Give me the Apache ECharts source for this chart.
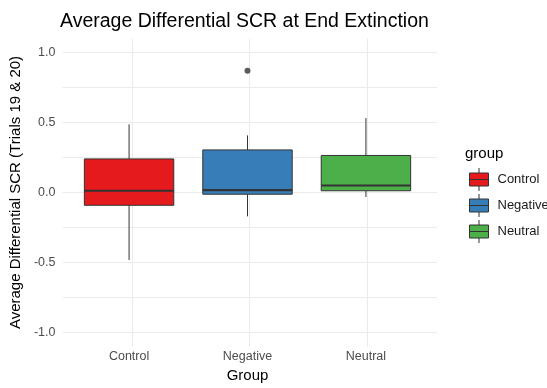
<!DOCTYPE html>
<html>
<head>
<meta charset="utf-8">
<script src="https://cdn.jsdelivr.net/npm/echarts@6/dist/echarts.min.js"></script>
<style>
html,body{margin:0;padding:0;background:#fff;}
#main{width:547px;height:388px;}
</style>
</head>
<body>
<div id="main"></div>
<script>
// ---- data ----
var categories = ['Control', 'Negative', 'Neutral'];
var groupColors = ['#E41A1C', '#377EB8', '#4DAF4A'];
// [lower whisker, Q1, median, Q3, upper whisker]
var controlStats  = [-0.50, -0.105, 0.00, 0.23, 0.48];
var negativeStats = [-0.185, -0.025, 0.005, 0.295, 0.40];
var neutralStats  = [-0.045, 0.00, 0.038, 0.255, 0.525];
var outliers = [['Negative', 0.867]];
var yTicks = [-1.0, -0.5, 0.0, 0.5, 1.0];

var statsList = [controlStats, negativeStats, neutralStats];
var FONT = '"Liberation Sans", Arial, sans-serif';
var GRID = '#EBEBEB';
var chart = echarts.init(document.getElementById('main'), null, {renderer: 'canvas'});

function renderBox(params, api) {
  var ci = api.value(0);
  var x = api.coord([ci, 0])[0];
  var bw = api.size([1, 0])[0] * 0.755;
  var yLo = api.coord([ci, api.value(1)])[1];
  var yQ1 = api.coord([ci, api.value(2)])[1];
  var yMed = api.coord([ci, api.value(3)])[1];
  var yQ3 = api.coord([ci, api.value(4)])[1];
  var yHi = api.coord([ci, api.value(5)])[1];
  var st = {stroke: '#333333', lineWidth: 1};
  return {
    type: 'group',
    children: [
      {type: 'line', shape: {x1: x, y1: yHi, x2: x, y2: yQ3}, style: st},
      {type: 'line', shape: {x1: x, y1: yQ1, x2: x, y2: yLo}, style: st},
      {type: 'rect', shape: {x: x - bw / 2, y: yQ3, width: bw, height: yQ1 - yQ3},
        style: {fill: api.visual('color'), stroke: '#333333', lineWidth: 1}},
      {type: 'line', shape: {x1: x - bw / 2, y1: yMed, x2: x + bw / 2, y2: yMed},
        style: {stroke: '#333333', lineWidth: 2.2}}
    ]
  };
}

var series = categories.map(function (name, i) {
  return {
    name: name,
    type: 'custom',
    xAxisIndex: 1,
    yAxisIndex: 1,
    itemStyle: {color: groupColors[i]},
    encode: {x: 0, y: [1, 2, 3, 4, 5]},
    renderItem: renderBox,
    data: [[i].concat(statsList[i])],
    z: 3
  };
});
series.push({
  type: 'scatter',
  xAxisIndex: 1,
  yAxisIndex: 1,
  symbolSize: 6,
  itemStyle: {color: '#333333'},
  data: outliers,
  silent: true,
  z: 4
});

function isTick(v) {
  for (var i = 0; i < yTicks.length; i++) {
    if (Math.abs(v - yTicks[i]) < 1e-6) return true;
  }
  return false;
}

var yMin = -1.1, yMax = 1.1;

var option = {
  backgroundColor: '#ffffff',
  animation: false,
  title: [
    {text: 'Average Differential SCR at End Extinction', left: 55, top: 7,
      textStyle: {fontFamily: FONT, fontSize: 19.5, fontWeight: 'normal', color: '#000000'}},
    {text: 'group', left: 460, top: 141,
      textStyle: {fontFamily: FONT, fontSize: 15, fontWeight: 'normal', color: '#000000'}}
  ],
  legend: {
    orient: 'vertical',
    left: 464,
    top: 162.5,
    itemWidth: 19,
    itemHeight: 23,
    itemGap: 2,
    icon: 'path://M0,5 L19,5 L19,18 L0,18 Z M9.5,0 L9.5,5 M9.5,18 L9.5,23 M0,11.5 L19,11.5',
    itemStyle: {borderColor: '#333333', borderWidth: 1},
    textStyle: {fontFamily: FONT, fontSize: 13, color: '#1a1a1a', padding: [0, 0, 0, 4]},
    data: categories
  },
  grid: [
    {left: 58, right: 110, top: 38.5, bottom: 41.5},
    {left: 69.85, width: 355.3, top: 38.5, bottom: 41.5}
  ],
  xAxis: [
    {
      type: 'value', gridIndex: 0, min: 0.4, max: 3.6, interval: 0.2,
      axisLine: {show: false}, axisTick: {show: false}, axisLabel: {show: false},
      splitLine: {show: true, lineStyle: {color: ['transparent', 'transparent', 'transparent', GRID, 'transparent'], width: 1}}
    },
    {
      type: 'category', gridIndex: 1, data: categories,
      axisLine: {show: false}, axisTick: {show: false},
      axisLabel: {fontFamily: FONT, fontSize: 12.5, color: '#4D4D4D', margin: 7},
      splitLine: {show: false},
      name: 'Group', nameLocation: 'middle', nameGap: 25,
      nameTextStyle: {fontFamily: FONT, fontSize: 15, color: '#000000'}
    }
  ],
  yAxis: [
    {
      type: 'value', gridIndex: 0, min: yMin, max: yMax, interval: 0.05,
      axisLine: {show: false}, axisTick: {show: false},
      axisLabel: {
        fontFamily: FONT, fontSize: 12.5, color: '#4D4D4D', margin: 7,
        formatter: function (v) {
          if (!isTick(v)) return '';
          var r = Math.round(v * 10) / 10;
          if (Math.abs(r) < 1e-9) r = 0;
          return r.toFixed(1);
        }
      },
      splitLine: {show: true, lineStyle: {color: ['transparent', 'transparent', GRID, 'transparent', 'transparent'], width: 1}},
      name: 'Average Differential SCR (Trials 19 & 20)', nameLocation: 'middle', nameGap: 37,
      nameRotate: 90,
      nameTextStyle: {fontFamily: FONT, fontSize: 15, color: '#000000'}
    },
    {
      type: 'value', gridIndex: 1, min: yMin, max: yMax,
      axisLine: {show: false}, axisTick: {show: false}, axisLabel: {show: false},
      splitLine: {show: false}
    }
  ],
  series: series
};
chart.setOption(option);
</script>
</body>
</html>
